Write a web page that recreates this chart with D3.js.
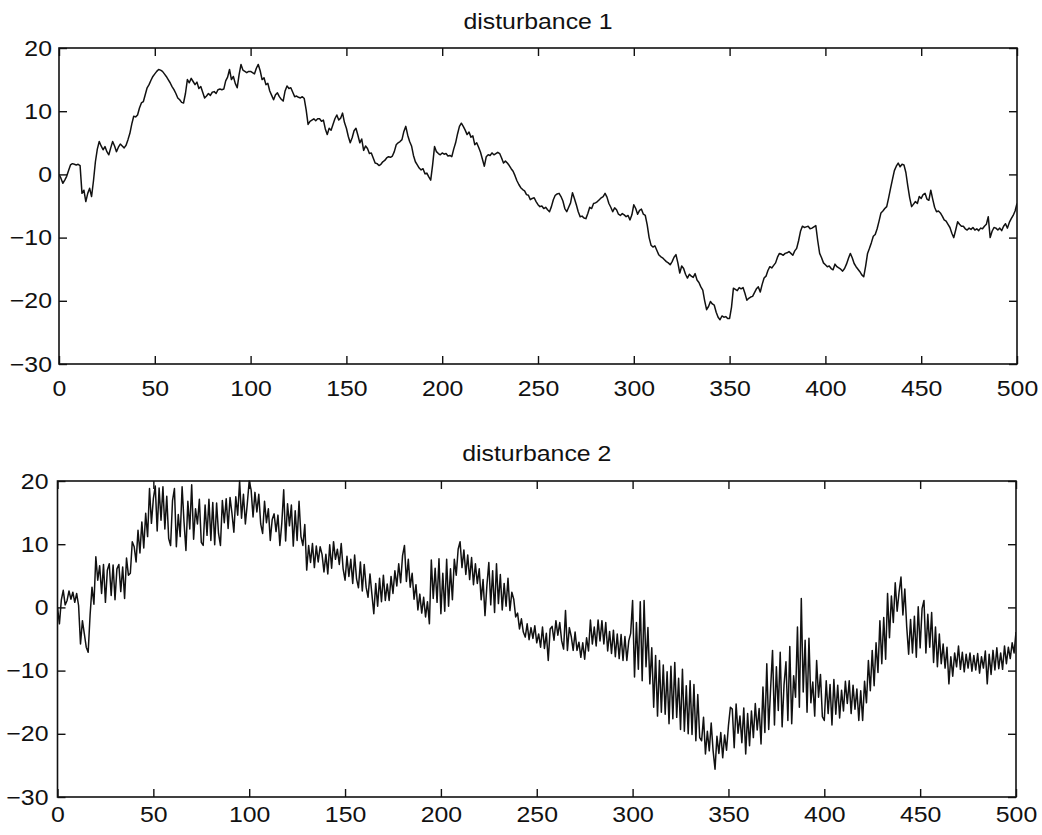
<!DOCTYPE html>
<html>
<head>
<meta charset="utf-8">
<script src="https://cdn.jsdelivr.net/npm/d3@7"></script>
<style>
  html, body { margin: 0; padding: 0; background: #fff; }
  svg { display: block; }
  text { font-family: "Liberation Sans", Arial, Helvetica, sans-serif; fill: #111; }
</style>
</head>
<body>
<svg id="chart" width="1042" height="835"></svg>
<script>
// Sample index runs 0..500 for both series.
const xTicks = [0, 50, 100, 150, 200, 250, 300, 350, 400, 450, 500];
const yTicks = [-30, -20, -10, 0, 10, 20];
const titles = ["disturbance 1", "disturbance 2"];

// disturbance 1: slow random-walk-like signal
const disturbance1 = [
  0, -0.6, -1.4, -0.9, -0.3, 0.6, 1.5, 1.7, 1.6, 1.5,
  1.6, 1.4, -3, -2.5, -4.3, -3, -2.2, -3.5, -1, 2,
  4, 5.2, 4.5, 3.9, 4.4, 3.6, 3.1, 4.2, 5.2, 4.5,
  3.6, 4.3, 4.8, 4.5, 4.2, 4.6, 5.5, 6.5, 8, 9.2,
  9.1, 9.4, 10.5, 11.3, 11.5, 12.6, 13.7, 14.2, 14.9, 15.5,
  15.9, 16.3, 16.6, 16.5, 16.3, 15.9, 15.5, 15, 14.5, 13.9,
  13.4, 12.8, 12.1, 11.8, 11.4, 11.3, 12.8, 15, 14.5, 15.2,
  14.7, 14.2, 14.6, 13.6, 13.9, 13, 12.1, 12.4, 12.8, 12.5,
  13, 13.1, 12.8, 13.4, 13.5, 13.4, 13.5, 14.8, 15.4, 16.6,
  15, 15.5, 14.4, 13.7, 15.8, 17.4, 16.5, 16.3, 16.1, 16.3,
  16.3, 16.1, 15.9, 16.8, 17.4, 16.4, 15, 15.3, 14.2, 14.4,
  13.2, 12.5, 11.8, 12.6, 12.9, 12.3, 11.9, 11.6, 13.2, 14,
  13.6, 13.7, 13, 12.3, 12.4, 12.2, 12.1, 12.3, 12, 10.2,
  7.9, 8.4, 8.6, 8.8, 8.5, 8.8, 8.8, 8.4, 8.6, 7.2,
  6.3, 7.3, 7, 7.9, 8.8, 9.4, 8.6, 8.9, 9.7, 8.2,
  7.3, 6, 5, 5.8, 6.9, 7.3, 6.2, 5, 5.6, 3.8,
  4.5, 4.1, 3.3, 3.4, 2.6, 1.8, 1.7, 1.4, 1.6, 2,
  2.2, 2.6, 2.8, 2.7, 2.9, 3.6, 4.7, 5, 5.2, 5.5,
  6.8, 7.6, 6.2, 5.2, 4.5, 3, 2, 1.5, 1, 0.7,
  0.9, 0.1, 0.2, -0.4, -0.9, 1.5, 4.4, 3.6, 3.3, 3.1,
  3.4, 3.2, 3.3, 2.9, 3, 2.8, 4, 5, 6.4, 7.6,
  8.1, 7.6, 7, 6.3, 6.7, 5.9, 6.1, 4.7, 5, 4.3,
  3.5, 2.4, 1.3, 2.8, 3.1, 3, 3.4, 3.1, 3.3, 3.5,
  3.3, 2.6, 1.8, 2.1, 1.8, 1.4, 0.9, 0.5, -0.2, -1,
  -1.6, -2.1, -2.4, -2.6, -3.2, -3.3, -4, -3.8, -3.7, -4.3,
  -4.8, -5.1, -5, -5.4, -5.2, -5.6, -5.9, -5.1, -4, -3.3,
  -3.1, -3, -3.5, -4.2, -5.4, -5.9, -5.2, -4.5, -2.9, -3.8,
  -4.8, -5.9, -6.7, -6.6, -6.9, -7, -6.2, -5.2, -5.4, -4.6,
  -4.5, -4.3, -4, -3.7, -3.5, -3, -3.6, -4.6, -5.2, -5.9,
  -5.3, -5.6, -6.3, -6.5, -6.2, -6.4, -6.7, -6.5, -7.2, -6.4,
  -4.8, -5.4, -6.3, -5.7, -5.5, -6.3, -6.5, -8, -10, -11.2,
  -11.5, -11.3, -12, -12.7, -13, -13.2, -13.5, -13.8, -14, -14.3,
  -13.8, -13.1, -12.7, -14, -15.6, -14.5, -14.9, -15.8, -16.4, -15.8,
  -16.1, -16.3, -15.7, -16.7, -17.1, -17.8, -18.3, -20, -21.4, -20.9,
  -20.1, -20.5, -20.7, -21.8, -22.6, -23, -22.4, -22.6, -22.5, -22.8,
  -22.8, -21, -18, -18.2, -18.4, -17.9, -18.1, -17.9, -18.8, -19.9,
  -19.6, -19.4, -19.3, -18.7, -18.1, -17.8, -18.6, -17.4, -16.4, -16.1,
  -15.2, -14.6, -14.8, -14.4, -14, -13.1, -12.5, -12.6, -12.8, -12.5,
  -12.4, -12.2, -12.5, -12.8, -12.1, -11.7, -10.5, -9, -8.2, -8.4,
  -8.3, -8.2, -8.6, -8.5, -8.3, -8.1, -10.5, -12.5, -13.2, -14,
  -14.3, -14.6, -14.5, -14.9, -15.1, -14.2, -14.6, -14.8, -15, -15.3,
  -14.9, -14.2, -13.3, -12.5, -13.2, -14.1, -14.6, -15, -15.4, -15.9,
  -16.2, -14.5, -12.5, -11.7, -10.8, -9.8, -9.5, -8.6, -7.4, -6.1,
  -5.8, -5.4, -5.1, -3.7, -2.2, -0.8, 0.6, 1.3, 1.8, 1.2,
  1.6, 1.5, 0.3, -1.8, -3.7, -5.1, -4.7, -4.3, -4.6, -3.5,
  -3.8, -3.2, -3, -3.9, -4.1, -2.5, -3.9, -5.2, -5.9, -5.8,
  -6.1, -6.6, -7.2, -7.4, -7.9, -8.4, -9.3, -10, -8.8, -7.5,
  -7.9, -8.2, -8.2, -8.6, -8.8, -8.5, -8.7, -8.4, -8.8, -8.6,
  -8.9, -8.5, -8.6, -8.2, -7.9, -6.7, -10, -9, -8.4, -8.5,
  -8.8, -8.5, -8.9, -8.2, -7.8, -8.5, -7.6, -7, -6.5, -5.8,
  -4.6
];

// disturbance 2: same drift with a fast oscillating component on top
const disturbance2 = [
  0, -2.6, 1.2, 2.7, 0.4, 1.1, 2.6, 1.3, 2.4, 0.8, 2.2, 0.3,
  -5.8, -2.1, -4.2, -6.3, -7.1, -1.2, 3.2, 0.5,
  8, 4.3, 6.6, 2.2, 6.8, 0.8, 5.9, 6.9, 1.9, 6.7, 1.2, 6.1, 6.8, 2.5, 6.4, 1.4, 7.8, 5.1, 5.4, 10.4, 9.6,
  7.2, 12.2, 8.6, 13.5, 9.4, 14.9, 11.2, 18.8, 13.3, 17.2,
  19.2, 12.1, 18.9, 13.8, 19.1, 12.4, 17.6, 10.9, 9.8, 16.9, 18.8, 9.6, 14.7, 11.2, 19.1,
  13.5, 9, 16.8, 12.4, 19.4, 10.8, 15.6, 13.2, 17.1, 10.3, 9.8, 16.2, 11.4, 17.1, 10.6,
  16.6, 9.9, 16.5, 11.7, 9.8, 16.9, 13.4, 17.2, 12.5, 17.4, 14.9, 11.9, 17.5, 14.6, 20, 14.1, 17.9, 13.2, 16.4, 20,
  18.6, 14.3, 18.2, 15.1, 17.9, 13.2, 11.7, 16.8, 13.4, 15.6, 10.6, 13.9, 14.8, 12, 14.6, 9.8, 13.3, 18.6, 10.5, 16.4,
  12.9, 16.2, 9.7, 15.3, 10.6, 16.8, 11.2, 9.8, 13.1,
  5.9, 9.8, 7.1, 10.1, 6.3, 9.7, 7.2, 9.6, 8.4, 5.6, 8.4, 5.3, 9.9, 6.2, 10.4, 7.6, 9.2, 6.8, 10.1, 6.1,
  4.3, 8.1, 4.9, 7.6, 3.8, 8.3, 4.5, 3.1, 7.2, 2.6, 6.8,
  3.2, 1.6, 5.3, 2.1, -1, 3.8, 0.2, 4.6, 0.9, 5.1, 1.1, 3.7, 1.1, 4.9, 2.2, 5.8, 3.4, 6.9, 3.9, 8.2,
  9.8, 4.1, 7.6, 3.2, 5.4, 1.3, 3.6, -0.4, 2.1, -0.9, 1.6, -1.5, 0.9, -2.6, 7.5, 1.4, 6.2, 0.8, 7.7, -1,
  5.4, -0.6, 7.6, 0.2, 6.1, 1.2, 7.6, 5.1, 9.2, 10.4, 6.3, 9.1, 5.2, 8.3, 4.4, 7.9, 3.6, 6.9, 3.8, 6.1,
  1.2, 4.4, -1.3, 3.5, 7.1, 0.4, 5.8, -0.8, 6.9, 0.6, 5.2, -0.4, 3.8, 0.2, 4.6, -0.5, 2.4, 1.3, -1.5, -0.9,
  -3.4, -1.8, -3.9, -4.7, -2.6, -5.1, -3.2, -4.9, -2.9, -5.6, -4.2, -6.3, -3.1, -6.5, -4.1, -8.4, -3.4, -3, -5.2, -2.1,
  -4.4, -2.4, -5.3, -6.6, -0.5, -6.8, -3.2, -4.6, -6.8, -3.9, -6.8, -5.5, -7.9, -5.6, -8.2, -4.8, -6.9, -2, -5.8, -3.1,
  -6.1, -2, -5.3, -2.1, -5.8, -2.4, -6.9, -3.8, -7.3, -3.6, -7.8, -4.2, -8.1, -4.3, -8.4, -4.6, -8.4, -5.3, -4.1, 1.1,
  -11, -2.4, -9.8, 0.9, -11.6, 1.1, -9.4, -3.2, -12.1, -6.4, -15.8, -7.6, -17.2, -8.4, -16.6, -9.1, -16.9, -10.2, -18.4, -9.3,
  -17.6, -8.7, -17.4, -11.2, -19.3, -9.8, -19.6, -12.4, -20, -11.6, -20.1, -12.2, -21.1, -13.8, -20.6,
  -21.1, -17.4, -23.2, -19.6, -22.7, -18.3, -22.7, -25.6, -20.4, -23.1, -19.8, -23.8, -20.2, -22.6, -18.7, -15.8, -16.1, -22.2, -15.3, -19.9,
  -17.2, -21.4, -15.9, -23.2, -16.8, -21.9, -16.4, -20.6, -15.2, -19.4, -16, -21.6, -12.6, -19.8, -8.9,
  -19.3, -12.8, -6.8, -18.6, -9.4, -16.3, -7.1, -18.9, -12.2, -8.6, -17.9, -6.2, -18.4, -10.8, -14.2, -3.1, -15.8, 1.4, -13.4, -5.2,
  -16.6, -4.9, -15.1, -11.8, -17.2,
  -8.4, -14.2, -10.6, -17.3, -17.9, -11.6, -16.8, -12.2, -18.6, -11.4, -16.9, -12.3, -17.5, -13.1, -16.4, -11.7, -15.2, -11.6, -16.8, -12.3,
  -16.1, -12.9, -17.9, -13.2, -17.9,
  -11.7, -15.1, -8.4, -13.2, -6.8, -12.4, -5.6, -10.3, -2.1, -8.9, -1.6, -8.2, 2.2, -4.8, 1.8, -2.4, 3.9, -0.6, 2.4, 4.8,
  -1.2, 2.9, -3.1, -7.4, -1.9, -7.2, -1.4, -7.9, 0.1, -6.4, -0.2, 1.1, -7.2, -1.1, -6.3, -0.8, -8.7, -3.1, -9.4, -4.2,
  -8.9, -5.8, -9.6, -6.3, -12.1, -7.8, -10.9, -7.2, -9.4, -6.1, -9.8, -7.1, -10.2, -7.4, -9.6, -7.2, -10.1, -7.6, -9.9, -7.3,
  -10.4, -7.8, -9.6, -6.9, -12.1, -7.4, -10.6, -6.8, -9.9, -6.4, -9.7, -7.2, -9.8, -6.1, -8.9, -6.3, -8.1, -5.6, -7.2, -3.9
];

const series = [disturbance1, disturbance2];

// Panel frames (pixel layout of each subplot)
const panels = [
  { left: 59, right: 1017, top: 48, bottom: 364, titleY: 29, xPad: 16, yPad: 7 },
  { left: 57.5, right: 1016, top: 481, bottom: 797, titleY: 461, xPad: 9, yPad: 9 }
];

const FONT = 22;       // font size of all labels
const STRETCH = 1.13;  // labels are set slightly wide
const TICK = 8;        // inward tick length

const svg = d3.select("#chart");

panels.forEach((p, i) => {
  const data = series[i];
  const x = d3.scaleLinear().domain([0, 500]).range([p.left, p.right]);
  const y = d3.scaleLinear().domain([-30, 20]).range([p.bottom, p.top]);

  const g = svg.append("g");

  // clip the trace to the axes box
  const clipId = "clip" + i;
  svg.append("clipPath").attr("id", clipId)
    .append("rect")
    .attr("x", p.left).attr("y", p.top - 1)
    .attr("width", p.right - p.left).attr("height", p.bottom - p.top + 2);

  const line = d3.line()
    .x((d, k) => x(k))
    .y(d => y(d));

  g.append("path")
    .datum(data)
    .attr("clip-path", `url(#${clipId})`)
    .attr("fill", "none")
    .attr("stroke", "#111")
    .attr("stroke-width", 1.5)
    .attr("stroke-linejoin", "round")
    .attr("d", line);

  // bottom axis with labels, inward ticks
  const bottomAxis = d3.axisBottom(x).tickValues(xTicks).tickFormat(d3.format("d"))
    .tickSizeInner(-TICK).tickSizeOuter(0).tickPadding(p.xPad);
  const gb = g.append("g").attr("transform", `translate(0,${p.bottom})`).call(bottomAxis);

  // top axis: ticks only
  const topAxis = d3.axisTop(x).tickValues(xTicks).tickFormat("")
    .tickSizeInner(-TICK).tickSizeOuter(0);
  const gt = g.append("g").attr("transform", `translate(0,${p.top})`).call(topAxis);

  // left axis with labels
  const leftAxis = d3.axisLeft(y).tickValues(yTicks).tickFormat(d3.format("d"))
    .tickSizeInner(-TICK).tickSizeOuter(0).tickPadding(p.yPad);
  const gl = g.append("g").attr("transform", `translate(${p.left},0)`).call(leftAxis);

  // right axis: ticks only
  const rightAxis = d3.axisRight(y).tickValues(yTicks).tickFormat("")
    .tickSizeInner(-TICK).tickSizeOuter(0);
  const gr = g.append("g").attr("transform", `translate(${p.right},0)`).call(rightAxis);

  [gb, gt, gl, gr].forEach(a => {
    a.select(".domain").remove();
    a.selectAll(".tick line").attr("stroke", "#111").attr("stroke-width", 1.4);
  });

  gb.selectAll(".tick text")
    .attr("font-size", FONT)
    .attr("fill", "#111")
    .attr("transform", `scale(${STRETCH},1)`);

  gl.selectAll(".tick text")
    .attr("font-size", FONT)
    .attr("fill", "#111")
    .attr("x", -p.yPad / STRETCH)
    .attr("transform", `scale(${STRETCH},1)`);

  // axes box
  g.append("rect")
    .attr("x", p.left).attr("y", p.top)
    .attr("width", p.right - p.left).attr("height", p.bottom - p.top)
    .attr("fill", "none")
    .attr("stroke", "#111")
    .attr("stroke-width", 1.6);

  // title
  const cx = (p.left + p.right) / 2;
  g.append("text")
    .attr("transform", `translate(${cx},${p.titleY}) scale(${STRETCH},1)`)
    .attr("text-anchor", "middle")
    .attr("font-size", FONT)
    .text(titles[i]);
});
</script>
</body>
</html>
